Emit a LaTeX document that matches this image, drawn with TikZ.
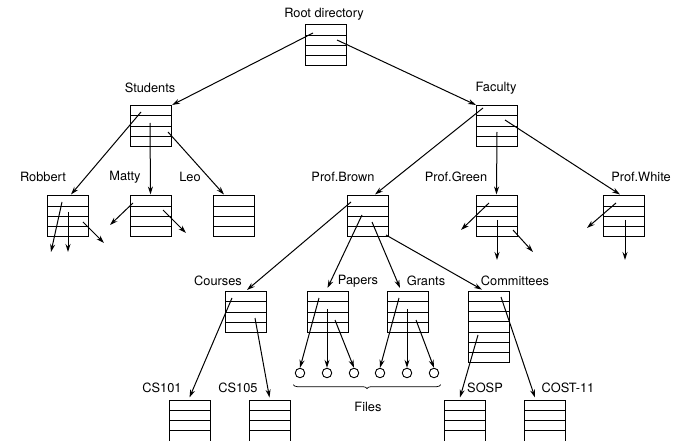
\documentclass[tikz,border=0pt]{standalone}
\usepackage{fontspec}
\setmainfont{TeX Gyre Heros}
\usetikzlibrary{calc,arrows.meta,decorations.pathreplacing}
\begin{document}
\begin{tikzpicture}[x=1pt,y=-1pt,
  dirbox/.style={draw, line width=1pt, minimum width=41pt, minimum height=#1*10.25pt, inner sep=0pt,
    path picture={\foreach \i in {1,...,#1}{
      \draw[line width=0.75pt] ($(path picture bounding box.north west)!{\i/#1}!(path picture bounding box.south west)$) --
                              ($(path picture bounding box.north east)!{\i/#1}!(path picture bounding box.south east)$);}}},
  dirbox/.default=4,
  lbl/.style={font=\fontsize{12.8}{15}\selectfont, inner sep=0pt},
  arr/.style={line width=1pt, -{Stealth[length=8pt,width=5pt]}},
  filenode/.style={draw, circle, line width=0.9pt, minimum size=9.5pt, inner sep=0pt}]
\useasboundingbox (0,0) rectangle (673,441);
% boxes
\node[dirbox] (root) at (325.5,45.5) {};
\node[dirbox] (students) at (151,126) {};
\node[dirbox] (faculty) at (497,126) {};
\node[dirbox] (robbert) at (68,216.5) {};
\node[dirbox] (matty) at (150.5,216.5) {};
\node[dirbox] (leo) at (233.5,216.5) {};
\node[dirbox] (brown) at (367.5,216.5) {};
\node[dirbox] (green) at (496.5,216.5) {};
\node[dirbox] (white) at (624,216.5) {};
\node[dirbox] (courses) at (246,312) {};
\node[dirbox] (papers) at (327.5,312) {};
\node[dirbox] (grants) at (407.5,312) {};
\node[dirbox=7] (committees) at (489,327) {};
\node[dirbox] (cs101) at (189.5,420.5) {};
\node[dirbox] (cs105) at (269.5,420.5) {};
\node[dirbox] (sosp) at (465,420.5) {};
\node[dirbox] (cost) at (544.5,420.5) {};
% labels
\node[lbl] (lroot) at (324,14) {Root directory};
\node[lbl] (lstudents) at (150,88) {Students};
\node[lbl] (lfaculty) at (496,88) {Faculty};
\node[lbl] (lrobbert) at (43,177) {Robbert};
\node[lbl] (lmatty) at (125,177) {Matty};
\node[lbl] (lleo) at (190,177) {Leo};
\node[lbl] (lbrown) at (343,177) {Prof.Brown};
\node[lbl] (lgreen) at (456,177) {Prof.Green};
\node[lbl] (lwhite) at (641,177) {Prof.White};
\node[lbl] (lcourses) at (218,281) {Courses};
\node[lbl] (lpapers) at (358,281) {Papers};
\node[lbl] (lgrants) at (426,281) {Grants};
\node[lbl] (lcommittees) at (515,281) {Committees};
\node[lbl] (lcs101) at (162,388) {CS101};
\node[lbl] (lcs105) at (238,388) {CS105};
\node[lbl] (lsosp) at (485,388) {SOSP};
\node[lbl] (lcost) at (568,388) {COST-11};
\node[lbl] (lfiles) at (368,407) {Files};
% files
\foreach \n/\x in {f1/300,f2/327,f3/354,f4/380,f5/407,f6/434}
  \node[filenode] (\n) at (\x,373) {};
\coordinate (bl) at ($(f1.south west)+(-3,8)$);
\coordinate (br) at ($(f6.south east)+(3,8)$);
\draw[line width=0.7pt, decorate, decoration={brace, mirror, amplitude=4pt}] (bl) -- (br);
% start coordinates inside boxes
\coordinate (r1) at (313,33);
\coordinate (r2) at (337,40);
\coordinate (s1) at (141,112);
\coordinate (s2) at (150,123);
\coordinate (s3) at (168,132);
\coordinate (fa1) at (483,108);
\coordinate (fa2) at (497,132);
\coordinate (fa3) at (505,120);
\coordinate (rb1) at (62,202);
\coordinate (rb2) at (68,212);
\coordinate (rb3) at (83,222);
\coordinate (rb1e) at (51,252);
\coordinate (rb2e) at (68,252);
\coordinate (rb3e) at (104,243);
\coordinate (m1) at (133,203);
\coordinate (m2) at (163,210);
\coordinate (m1e) at (110,225);
\coordinate (m2e) at (186,233);
\coordinate (g1) at (489,203);
\coordinate (g2) at (497,220);
\coordinate (g3) at (513,230);
\coordinate (g1e) at (461,230);
\coordinate (g2e) at (497,260);
\coordinate (g3e) at (533,252);
\coordinate (w1) at (616,203);
\coordinate (w2) at (625,220);
\coordinate (w1e) at (587,228);
\coordinate (w2e) at (625,260);
\coordinate (b1) at (351,202);
\coordinate (b2) at (362,215);
\coordinate (b3) at (372,222);
\coordinate (b4) at (386,235);
\coordinate (c1) at (232,298);
\coordinate (c2) at (255,318);
\coordinate (p1) at (319,298);
\coordinate (p2) at (327,309);
\coordinate (p3) at (335,320);
\coordinate (gr1) at (399,298);
\coordinate (gr2) at (407,309);
\coordinate (gr3) at (416,320);
\coordinate (cm1) at (478,335);
\coordinate (cm2) at (501,297);
% connectors
\draw[arr] (r1) -- (students.north east);
\draw[arr] (r2) -- (faculty.north west);
\draw[arr] (s1) -- ([xshift=3pt,yshift=1pt]robbert.north);
\draw[arr] (s2) -- ([yshift=1pt]matty.north);
\draw[arr] (s3) -- ([xshift=-9.5pt,yshift=1pt]leo.north);
\draw[arr] (fa1) -- ([xshift=7.5pt,yshift=1pt]brown.north);
\draw[arr] (fa2) -- ([yshift=1pt]green.north);
\draw[arr] (fa3) -- ([xshift=-4pt,yshift=1pt]white.north);
\draw[arr] (rb1) -- (rb1e);
\draw[arr] (rb2) -- (rb2e);
\draw[arr] (rb3) -- (rb3e);
\draw[arr] (m1) -- (m1e);
\draw[arr] (m2) -- (m2e);
\draw[arr] (g1) -- (g1e);
\draw[arr] (g2) -- (g2e);
\draw[arr] (g3) -- (g3e);
\draw[arr] (w1) -- (w1e);
\draw[arr] (w2) -- (w2e);
\draw[arr] (b1) -- ([xshift=1pt,yshift=1pt]courses.north);
\draw[arr] (b2) -- ([yshift=3pt]papers.north);
\draw[arr] (b3) -- ([xshift=-7.5pt,yshift=3pt]grants.north);
\draw[arr] (b4) -- ([xshift=-7pt,yshift=1pt]committees.north);
\draw[arr] (c1) -- ([yshift=2pt]cs101.north);
\draw[arr] (c2) -- ([yshift=2pt]cs105.north);
\draw[arr] (p1) -- (f1.north);
\draw[arr] (p2) -- (f2.north);
\draw[arr] (p3) -- (f3.north);
\draw[arr] (gr1) -- (f4.north);
\draw[arr] (gr2) -- (f5.north);
\draw[arr] (gr3) -- (f6.north);
\draw[arr] (cm1) -- ([xshift=-5pt,yshift=2pt]sosp.north);
\draw[arr] (cm2) -- ([xshift=-9.5pt,yshift=2pt]cost.north);
\end{tikzpicture}
\end{document}
